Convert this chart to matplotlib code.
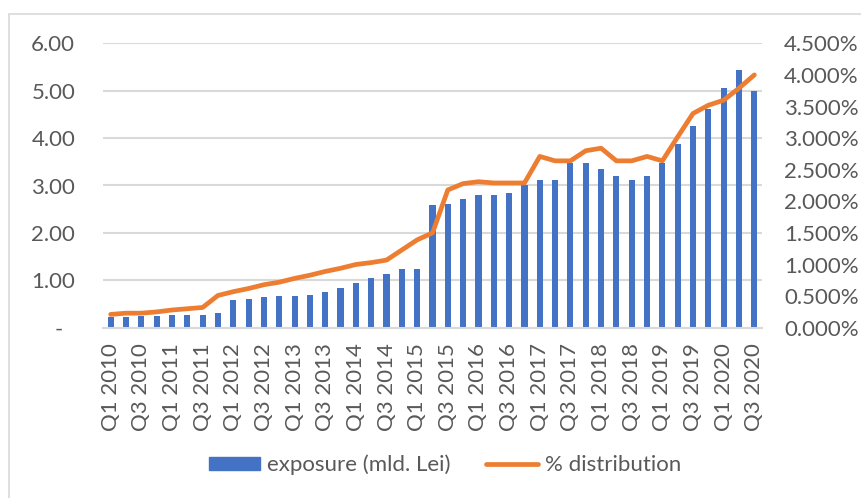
import matplotlib
matplotlib.use("Agg")
import matplotlib.pyplot as plt
from matplotlib.ticker import FixedLocator, FuncFormatter
from matplotlib.patches import Rectangle
from matplotlib.lines import Line2D
import numpy as np

quarters = [f"Q{q} {y}" for y in range(2010, 2021) for q in (1, 2, 3, 4)][:43]

exposure = [0.22, 0.23, 0.24, 0.25, 0.27, 0.27, 0.27, 0.32,
            0.58, 0.61, 0.64, 0.66, 0.66, 0.69, 0.75, 0.83,
            0.94, 1.04, 1.13, 1.23, 1.23, 2.59, 2.62, 2.72,
            2.81, 2.81, 2.84, 3.00, 3.12, 3.12, 3.48, 3.48,
            3.35, 3.21, 3.12, 3.21, 3.48, 3.88, 4.26, 4.62,
            5.05, 5.43, 4.99]

distribution = [0.21, 0.23, 0.23, 0.25, 0.28, 0.30, 0.32, 0.51,
                0.57, 0.62, 0.68, 0.72, 0.78, 0.83, 0.89, 0.94,
                1.00, 1.03, 1.07, 1.23, 1.39, 1.50, 2.18, 2.28,
                2.31, 2.29, 2.29, 2.29, 2.71, 2.64, 2.64, 2.80,
                2.84, 2.64, 2.64, 2.71, 2.64, 3.02, 3.39, 3.52,
                3.60, 3.79, 4.00]

left_ticks = [0, 1, 2, 3, 4, 5, 6]
right_ticks = [0, 0.5, 1.0, 1.5, 2.0, 2.5, 3.0, 3.5, 4.0, 4.5]

BLUE = "#4472C4"
ORANGE = "#ED7D31"
GRID = "#D9D9D9"
TXT = "#595959"
FONT = "Lato"
FS = 16

plt.rcParams["font.family"] = [FONT, "DejaVu Sans"]

fig = plt.figure(figsize=(8.62, 4.98), dpi=100)
W, H = 862, 498
# chart area border (Excel style)
fig.patches.append(Rectangle((9 / W, -0.1), 2, 1.1 - 14 / H, transform=fig.transFigure,
                             fill=False, edgecolor=GRID, linewidth=1.2))

ax = fig.add_axes([103 / W, 1 - 327.7 / H, (762 - 103) / W, (327.7 - 43.3) / H])
x = np.arange(len(quarters))
ax.bar(x, exposure, width=0.4, color=BLUE, zorder=2)
ax.set_xlim(-0.5, len(quarters) - 0.5)
ax.set_ylim(0, 6)
ax.yaxis.set_major_locator(FixedLocator(left_ticks))
ax.yaxis.set_major_formatter(FuncFormatter(lambda v, p: "-  " if v == 0 else f"{v:.2f}"))
ax.grid(axis="y", color=GRID, linewidth=1.5, zorder=0)
ax.set_axisbelow(True)
for s in ["top", "right", "left"]:
    ax.spines[s].set_visible(False)
ax.spines["bottom"].set_color(GRID)
ax.spines["bottom"].set_linewidth(1.5)
ax.set_xticks(x[::2])
ax.set_xticklabels(quarters[::2], rotation=90, fontsize=FS, color=TXT)
ax.tick_params(axis="x", length=0, pad=11)
ax.tick_params(axis="y", length=0, pad=20, labelsize=FS, labelcolor=TXT)

ax2 = ax.twinx()
ax2.plot(x, distribution, color=ORANGE, linewidth=3.4, solid_capstyle="round",
         solid_joinstyle="round", zorder=3)
ax2.set_ylim(0, 4.5)
ax2.yaxis.set_major_locator(FixedLocator(right_ticks))
ax2.yaxis.set_major_formatter(FuncFormatter(lambda v, p: f"{v:.3f}%"))
ax2.tick_params(axis="y", length=0, pad=16, labelsize=FS, labelcolor=TXT)
for s in ax2.spines.values():
    s.set_visible(False)

handles = [Rectangle((0, 0), 1, 1, color=BLUE),
           Line2D([0], [0], color=ORANGE, linewidth=3.4, solid_capstyle="round")]
fig.legend(handles, ["exposure (mld. Lei)", "% distribution"], loc="center",
           bbox_to_anchor=(445 / W, 1 - 465 / H), ncol=2, frameon=False,
           fontsize=FS, labelcolor=TXT, handlelength=2.3, handleheight=0.57,
           handletextpad=0.32, columnspacing=1.6)

fig.savefig("out.png", dpi=100)
